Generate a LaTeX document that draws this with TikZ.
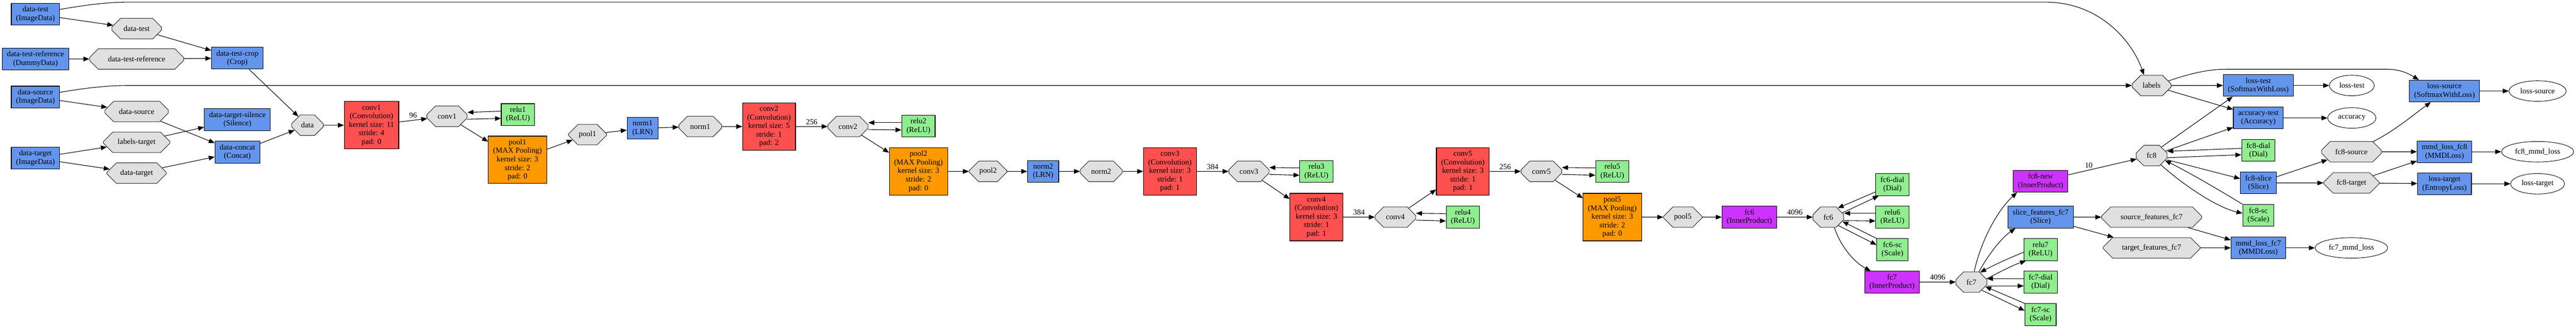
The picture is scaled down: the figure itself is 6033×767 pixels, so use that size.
\documentclass[tikz,border=0pt]{standalone}
\usepackage{fontspec}
\setmainfont{Liberation Serif}
\usetikzlibrary{arrows.meta,shapes.geometric,shapes.misc}
\definecolor{cblue}{HTML}{6495ED}
\definecolor{cred}{HTML}{FF5050}
\definecolor{corange}{HTML}{FF9900}
\definecolor{cgreen}{HTML}{90EE90}
\definecolor{cpurple}{HTML}{CC33FF}
\definecolor{cgray}{HTML}{E0E0E0}
\begin{document}
\begin{tikzpicture}[x=1pt, y=-1pt,
  every node/.style={font=\fontsize{18}{20}\selectfont, align=center},
  lbox/.style={rectangle, draw=black, line width=1.3pt, inner xsep=11pt, inner ysep=2pt, minimum width=73pt, minimum height=51pt},
  tall/.style={minimum height=111pt},
  lblue/.style={lbox, fill=cblue},
  lred/.style={lbox, fill=cred},
  lorange/.style={lbox, fill=corange},
  lgreen/.style={lbox, fill=cgreen},
  lpurple/.style={lbox, fill=cpurple},
  blob/.style={chamfered rectangle, draw=black!80, line width=1.3pt, fill=cgray, inner sep=0pt,
    minimum height=48pt, minimum width=#1pt, chamfered rectangle xsep={0.293*#1pt}, chamfered rectangle ysep=14pt},
  outp/.style={ellipse, draw=black, line width=1.1pt, fill=white, inner sep=0pt, minimum height=48pt, minimum width=#1pt},
  conn/.style={-{Triangle[length=14pt,width=11pt]}, line width=1.3pt},
  elab/.style={above=1pt, midway}
]
\useasboundingbox (0,0) rectangle (6033,767);

% ---------- inputs ----------
\node[lblue] (dtbox) at (83,33) {data-test\\(ImageData)};
\node[lblue] (dtrbox) at (83,138) {data-test-reference\\(DummyData)};
\node[lblue] (dsbox) at (83,227) {data-source\\(ImageData)};
\node[lblue] (dtgbox) at (83,370) {data-target\\(ImageData)};
\node[blob=116] (dt) at (320,67) {data-test};
\node[blob=220] (dtr) at (320,138) {data-test-reference};
\node[blob=148] (ds) at (320,261) {data-source};
\node[blob=156] (lt) at (320,333) {labels-target};
\node[blob=139] (dtg) at (320,405) {data-target};
\node[lblue] (crop) at (556,136) {data-test-crop\\(Crop)};
\node[lblue] (silence) at (556,280) {data-target-silence\\(Silence)};
\node[lblue] (concat) at (556,356) {data-concat\\(Concat)};
\node[blob=74] (data) at (720,293) {data};

% ---------- conv trunk ----------
\node[lred,tall] (conv1box) at (870,293) {conv1\\(Convolution)\\kernel size: 11\\stride: 4\\pad: 0};
\node[blob=94] (conv1) at (1047,272) {conv1};
\node[lgreen] (relu1) at (1213,268) {relu1\\(ReLU)};
\node[lorange,tall] (pool1box) at (1212,374) {pool1\\(MAX Pooling)\\kernel size: 3\\stride: 2\\pad: 0};
\node[blob=89] (pool1) at (1376,315) {pool1};
\node[lblue] (norm1box) at (1505,300) {norm1\\(LRN)};
\node[blob=100] (norm1) at (1640,296) {norm1};
\node[lred,tall] (conv2box) at (1801,296) {conv2\\(Convolution)\\kernel size: 5\\stride: 1\\pad: 2};
\node[blob=94] (conv2) at (1986,296) {conv2};
\node[lgreen] (relu2) at (2151,295) {relu2\\(ReLU)};
\node[lorange,tall] (pool2box) at (2151,401) {pool2\\(MAX Pooling)\\kernel size: 3\\stride: 2\\pad: 0};
\node[blob=88] (pool2) at (2314,401) {pool2};
\node[lblue] (norm2box) at (2443,401) {norm2\\(LRN)};
\node[blob=98] (norm2) at (2579,401) {norm2};
\node[lred,tall] (conv3box) at (2740,401) {conv3\\(Convolution)\\kernel size: 3\\stride: 1\\pad: 1};
\node[blob=94] (conv3) at (2925,401) {conv3};
\node[lgreen] (relu3) at (3083,401) {relu3\\(ReLU)};
\node[lred,tall] (conv4box) at (3083,508) {conv4\\(Convolution)\\kernel size: 3\\stride: 1\\pad: 1};
\node[blob=95] (conv4) at (3268,508) {conv4};
\node[lgreen] (relu4) at (3426,508) {relu4\\(ReLU)};
\node[lred,tall] (conv5box) at (3426,401) {conv5\\(Convolution)\\kernel size: 3\\stride: 1\\pad: 1};
\node[blob=95] (conv5) at (3610,401) {conv5};
\node[lgreen] (relu5) at (3776,401) {relu5\\(ReLU)};
\node[lorange,tall] (pool5box) at (3776,508) {pool5\\(MAX Pooling)\\kernel size: 3\\stride: 2\\pad: 0};
\node[blob=90] (pool5) at (3941,508) {pool5};
\node[lpurple] (fc6box) at (4097,508) {fc6\\(InnerProduct)};
\node[blob=72] (fc6) at (4282,508) {fc6};
\node[lgreen] (fc6dial) at (4432,432) {fc6-dial\\(Dial)};
\node[lgreen] (relu6) at (4432,508) {relu6\\(ReLU)};
\node[lgreen] (fc6sc) at (4432,584) {fc6-sc\\(Scale)};
\node[lpurple] (fc7box) at (4431,660) {fc7\\(InnerProduct)};
\node[blob=72] (fc7) at (4617,660) {fc7};
\node[lpurple] (fc8new) at (4779,424) {fc8-new\\(InnerProduct)};
\node[lblue] (slice7) at (4779,508) {slice\_features\_fc7\\(Slice)};
\node[lgreen] (relu7) at (4779,584) {relu7\\(ReLU)};
\node[lgreen] (fc7dial) at (4779,660) {fc7-dial\\(Dial)};
\node[lgreen] (fc7sc) at (4779,736) {fc7-sc\\(Scale)};
\node[blob=234] (srcf) at (5039,508) {source\_features\_fc7};
\node[blob=227] (tgtf) at (5039,580) {target\_features\_fc7};
\node[blob=72] (fc8) at (5039,364) {fc8};
\node[blob=91] (labels) at (5039,200) {labels};

% ---------- heads ----------
\node[lblue] (losstestbox) at (5289,200) {loss-test\\(SoftmaxWithLoss)};
\node[lblue] (acctest) at (5289,276) {accuracy-test\\(Accuracy)};
\node[lgreen] (fc8dial) at (5289,352) {fc8-dial\\(Dial)};
\node[lblue] (fc8slice) at (5289,428) {fc8-slice\\(Slice)};
\node[lgreen] (fc8sc) at (5289,504) {fc8-sc\\(Scale)};
\node[lblue] (mmd7) at (5289,580) {mmd\_loss\_fc7\\(MMDLoss)};
\node[outp=105] (losstest) at (5508,200) {loss-test};
\node[outp=113] (accuracy) at (5508,276) {accuracy};
\node[blob=140] (fc8src) at (5507,355) {fc8-source};
\node[blob=130] (fc8tgt) at (5507,428) {fc8-target};
\node[outp=170] (mmd7out) at (5507,580) {fc7\_mmd\_loss};
\node[lblue] (losssrcbox) at (5725,213) {loss-source\\(SoftmaxWithLoss)};
\node[lblue] (mmd8) at (5725,355) {mmd\_loss\_fc8\\(MMDLoss)};
\node[lblue] (losstgtbox) at (5725,430) {loss-target\\(EntropyLoss)};
\node[outp=134] (losssrc) at (5943,213) {loss-source};
\node[outp=169] (mmd8out) at (5943,355) {fc8\_mmd\_loss};
\node[outp=126] (losstgt) at (5943,430) {loss-target};

% ---------- edges: inputs ----------
\draw[conn] (dtbox) -- (dt);
\draw[conn] ([yshift=11pt]dtbox.east) .. controls (200,12) and (250,5) .. (300,5) -- (4790,5) .. controls (4920,5) and (4995,100) .. ([xshift=-18pt]labels.north);
\draw[conn] (dt) -- (crop);
\draw[conn] (dtrbox) -- (dtr);
\draw[conn] (dtr) -- (crop);
\draw[conn] (crop) -- (data);
\draw[conn] (dsbox) -- (ds);
\draw[conn] ([yshift=11pt]dsbox.east) .. controls (200,206) and (250,200) .. (300,200) -- (labels.west);
\draw[conn] (ds) -- (concat);
\draw[conn] (dtgbox) -- (lt);
\draw[conn] (dtgbox) -- (dtg);
\draw[conn] (lt) -- (silence);
\draw[conn] (dtg) -- (concat);
\draw[conn] (concat) -- (data);
\draw[conn] (data) -- (conv1box);

% ---------- edges: trunk ----------
\draw[conn] (conv1box) -- (conv1) node[elab] {96};
\draw[conn] ([yshift=8pt]relu1.west) -- ([yshift=9pt]conv1.east);
\draw[conn] ([yshift=-7pt]conv1.east) -- ([yshift=-9pt]relu1.west);
\draw[conn] (conv1) -- (pool1box);
\draw[conn] (pool1box) -- (pool1);
\draw[conn] (pool1) -- (norm1box);
\draw[conn] (norm1box) -- (norm1);
\draw[conn] (norm1) -- (conv2box);
\draw[conn] (conv2box) -- (conv2) node[elab] {256};
\draw[conn] ([yshift=8pt]relu2.west) -- ([yshift=9pt]conv2.east);
\draw[conn] ([yshift=-7pt]conv2.east) -- ([yshift=-9pt]relu2.west);
\draw[conn] (conv2) -- (pool2box);
\draw[conn] (pool2box) -- (pool2);
\draw[conn] (pool2) -- (norm2box);
\draw[conn] (norm2box) -- (norm2);
\draw[conn] (norm2) -- (conv3box);
\draw[conn] (conv3box) -- (conv3) node[elab] {384};
\draw[conn] ([yshift=8pt]relu3.west) -- ([yshift=9pt]conv3.east);
\draw[conn] ([yshift=-7pt]conv3.east) -- ([yshift=-9pt]relu3.west);
\draw[conn] (conv3) -- (conv4box);
\draw[conn] (conv4box) -- (conv4) node[elab] {384};
\draw[conn] ([yshift=8pt]relu4.west) -- ([yshift=9pt]conv4.east);
\draw[conn] ([yshift=-7pt]conv4.east) -- ([yshift=-9pt]relu4.west);
\draw[conn] (conv4) -- (conv5box);
\draw[conn] (conv5box) -- (conv5) node[elab] {256};
\draw[conn] ([yshift=8pt]relu5.west) -- ([yshift=9pt]conv5.east);
\draw[conn] ([yshift=-7pt]conv5.east) -- ([yshift=-9pt]relu5.west);
\draw[conn] (conv5) -- (pool5box);
\draw[conn] (pool5box) -- (pool5);
\draw[conn] (pool5) -- (fc6box);
\draw[conn] (fc6box) -- (fc6) node[elab] {4096};

% ---------- fc6 ----------
\draw[conn] ([yshift=-17pt]fc6dial.west) -- (fc6.44);
\draw[conn] (fc6.17) -- ([xshift=-32pt]fc6dial.south);
\draw[conn] ([yshift=9pt]relu6.west) -- ([yshift=9pt]fc6.east);
\draw[conn] ([yshift=-8pt]fc6.east) -- ([yshift=-9pt]relu6.west);
\draw[conn] (fc6sc.north west) -- (fc6.-17);
\draw[conn] (fc6.-40) -- ([yshift=11pt]fc6sc.west);
\draw[conn] (fc6.-60) .. controls (4312,580) and (4345,615) .. ([xshift=-50pt]fc7box.north);
\draw[conn] (fc7box) -- (fc7) node[elab] {4096};

% ---------- fc7 ----------
\draw[conn] (fc7.75) .. controls (4640,560) and (4680,490) .. ([xshift=-55pt]fc8new.south);
\draw[conn] (fc7.54) .. controls (4660,590) and (4690,555) .. ([xshift=-59pt]slice7.south);
\draw[conn] ([yshift=-6pt]relu7.west) .. controls (4705,604) and (4670,620) .. (fc7.48);
\draw[conn] (fc7.12) .. controls (4680,638) and (4715,620) .. ([xshift=-34pt]relu7.south);
\draw[conn] ([yshift=8pt]fc7dial.west) -- ([yshift=8pt]fc7.east);
\draw[conn] ([yshift=-9pt]fc7.east) -- ([yshift=-9pt]fc7dial.west);
\draw[conn] (fc7sc.north west) -- (fc7.-18);
\draw[conn] (fc7.-38) -- ([yshift=9pt]fc7sc.west);
\draw[conn] (fc8new) -- (fc8) node[above=1pt, pos=0.3] {10};
\draw[conn] (slice7) -- (srcf);
\draw[conn] (slice7) -- (tgtf);
\draw[conn] (srcf) -- (mmd7);
\draw[conn] (tgtf) -- (mmd7);
\draw[conn] (mmd7) -- (mmd7out);

% ---------- fc8 ----------
\draw[conn] (fc8.41) -- ([xshift=-60pt]losstestbox.south);
\draw[conn] (fc8.18) -- ([yshift=-22pt]acctest.west);
\draw[conn] ([yshift=5pt]fc8dial.west) -- ([yshift=10pt]fc8.east);
\draw[conn] ([yshift=-5pt]fc8.east) -- ([yshift=-10pt]fc8dial.west);
\draw[conn] ([yshift=-10pt]fc8.east) -- ([yshift=10pt]fc8slice.west);
\draw[conn] (fc8sc.north west) .. controls (5190,440) and (5120,400) .. (fc8.-20);
\draw[conn] (fc8.-45) .. controls (5110,430) and (5190,485) .. ([yshift=5pt]fc8sc.west);
\draw[conn] (labels) -- (losstestbox);
\draw[conn] (labels.-16) -- ([yshift=20pt]acctest.west);
\draw[conn] (labels.15) .. controls (5140,168) and (5180,162) .. (5215,162) -- (5590,162) .. controls (5625,162) and (5645,175) .. ([xshift=-60pt]losssrcbox.north);
\draw[conn] (losstestbox) -- (losstest);
\draw[conn] (acctest) -- (accuracy);
\draw[conn] (fc8slice) -- (fc8src);
\draw[conn] (fc8slice) -- (fc8tgt);
\draw[conn] (fc8src.25) .. controls (5610,305) and (5650,270) .. ([xshift=-32pt]losssrcbox.south);
\draw[conn] (fc8src) -- (mmd8);
\draw[conn] (fc8tgt) -- (mmd8);
\draw[conn] (fc8tgt) -- (losstgtbox);
\draw[conn] (losssrcbox) -- (losssrc);
\draw[conn] (mmd8) -- (mmd8out);
\draw[conn] (losstgtbox) -- (losstgt);
\end{tikzpicture}
\end{document}
